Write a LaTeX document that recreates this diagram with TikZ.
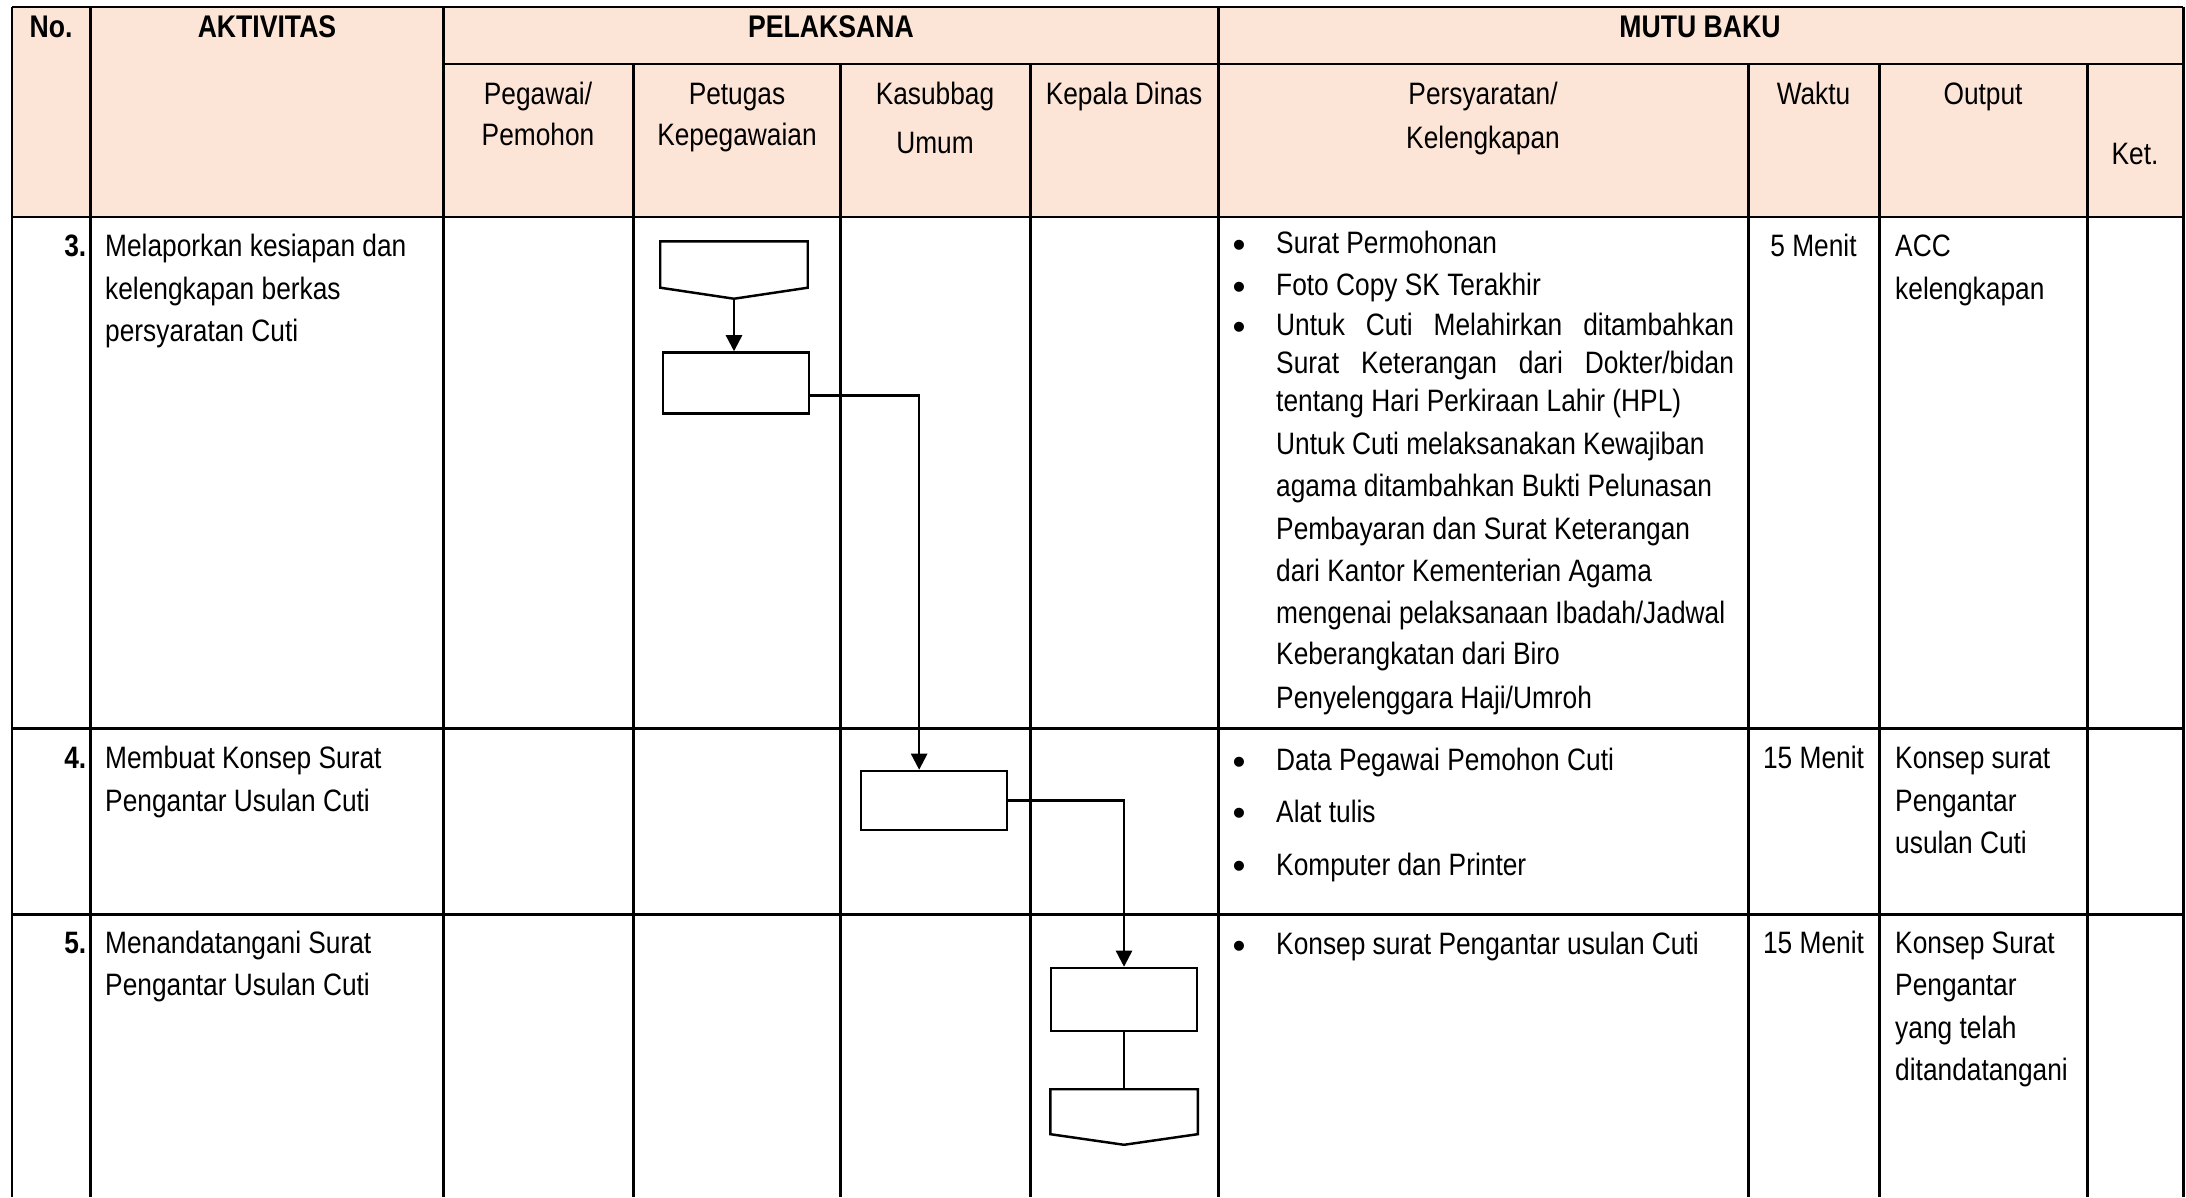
\documentclass[tikz,border=0pt]{standalone}
\usepackage{fontspec}
\setmainfont{Liberation Sans}[FakeStretch=0.85]
\newfontfamily\bulletfont{Liberation Sans}
\usetikzlibrary{arrows.meta,calc,positioning}
\definecolor{headfill}{RGB}{252,228,214}
\tikzset{
  tline/.style={line width=0.85pt},
  outline/.style={line width=0.7pt,line join=miter},
  procbox/.style={rectangle,draw,line width=0.7pt,minimum width=1.46cm,
                  minimum height=0.61cm,inner sep=0pt},
  offbody/.style={rectangle,minimum width=1.46cm,minimum height=0.45cm,inner sep=0pt},
  arr/.style={-{Triangle[length=4.6pt,width=4.6pt]},line width=0.7pt},
  link/.style={line width=0.7pt},
  txt/.style={anchor=base west,inner sep=0pt,font=\fontsize{8.8}{12}\selectfont},
  ctxt/.style={txt,anchor=base},
  hd/.style={ctxt,font=\fontsize{8.9}{12}\selectfont\bfseries},
  num/.style={txt,anchor=base east,font=\fontsize{8.8}{12}\selectfont\bfseries},
  bul/.style={anchor=base,inner sep=0pt,yshift=-1.1pt,
              font=\fontsize{10.5}{12}\selectfont\bulletfont},
}
\begin{document}
\begin{tikzpicture}[x=0.01cm,y=-0.01cm]
  \useasboundingbox (0,0) rectangle (2186,1197);
  %% Header background
  \fill[headfill] (12,7) rectangle (2183,217);
  %% Table lines
  \foreach \x in {12,90.6,443,1218,2183}{
    \draw[tline] (\x,7) -- (\x,1197);
  }
  \foreach \x in {633,840.6,1030,1748,1879,2087}{
    \draw[tline] (\x,64) -- (\x,1197);
  }
  \draw[tline] (12,7) -- (2183,7);
  \draw[tline] (443,64) -- (2183,64);
  \foreach \y in {217,728,914}{
    \draw[tline] (12,\y) -- (2183,\y);
  }

  %% Header texts
  \node[hd] (hNo)   at (51,37.5)   {No.};
  \node[hd] (hAkt)  at (267,37.5)  {AKTIVITAS};
  \node[hd] (hPel)  at (831,37.5)  {PELAKSANA};
  \node[hd] (hMutu) at (1700,37.5) {MUTU BAKU};
  \node[ctxt] (hPeg1) at (538,104.5)  {Pegawai/};
  \node[ctxt] (hPeg2) at (538,146)    {Pemohon};
  \node[ctxt] (hPet1) at (737,104.5)  {Petugas};
  \node[ctxt] (hPet2) at (737,146)    {Kepegawaian};
  \node[ctxt] (hKas1) at (935,104.5)  {Kasubbag};
  \node[ctxt] (hKas2) at (935,153)    {Umum};
  \node[ctxt] (hKep)  at (1124,104.5) {Kepala Dinas};
  \node[ctxt] (hPer1) at (1483,104.5) {Persyaratan/};
  \node[ctxt] (hPer2) at (1483,149)   {Kelengkapan};
  \node[ctxt] (hWak)  at (1813.5,104.5) {Waktu};
  \node[ctxt] (hOut)  at (1983,104.5) {Output};
  \node[ctxt] (hKet)  at (2135,164)   {Ket.};

  %% Row 3
  \node[num] (n3)   at (87,256)    {3.};
  \node[txt] (a3a)  at (104.5,256) {Melaporkan kesiapan dan};
  \node[txt] (a3b)  at (104.5,299.5) {kelengkapan berkas};
  \node[txt] (a3c)  at (104.5,341) {persyaratan Cuti};
  \node[bul] (p3b1) at (1239,253.5) {\textbullet};
  \node[txt] (p3t1) at (1275.5,253.5) {Surat Permohonan};
  \node[bul] (p3b2) at (1239,295.4) {\textbullet};
  \node[txt] (p3t2) at (1275.5,295.4) {Foto Copy SK Terakhir};
  \node[bul] (p3b3) at (1239,335.8) {\textbullet};
  \node[txt] (p3t3) at (1275.5,335.8) {\makebox[4.575cm][s]{Untuk Cuti Melahirkan ditambahkan}};
  \node[txt] (p3t4) at (1275.5,373.4) {\makebox[4.575cm][s]{Surat Keterangan dari Dokter/bidan}};
  \node[txt] (p3t5) at (1275.5,411)   {tentang Hari Perkiraan Lahir (HPL)};
  \node[txt] (p3t6) at (1275.5,454.3) {Untuk Cuti melaksanakan Kewajiban};
  \node[txt] (p3t7) at (1275.5,496)   {agama ditambahkan Bukti Pelunasan};
  \node[txt] (p3t8) at (1275.5,539.3) {Pembayaran dan Surat Keterangan};
  \node[txt] (p3t9) at (1275.5,581)   {dari Kantor Kementerian Agama};
  \node[txt] (p3t10) at (1275.5,623)  {mengenai pelaksanaan Ibadah/Jadwal};
  \node[txt] (p3t11) at (1275.5,664.8) {Keberangkatan dari Biro};
  \node[txt] (p3t12) at (1275.5,708)  {Penyelenggara Haji/Umroh};
  \node[ctxt] (w3)  at (1813.5,256) {5 Menit};
  \node[txt] (o3a)  at (1894.5,256) {ACC};
  \node[txt] (o3b)  at (1894.5,299.5) {kelengkapan};

  %% Row 4
  \node[num] (n4)   at (87,768)    {4.};
  \node[txt] (a4a)  at (104.5,768) {Membuat Konsep Surat};
  \node[txt] (a4b)  at (104.5,811) {Pengantar Usulan Cuti};
  \node[bul] (p4b1) at (1239,770.7) {\textbullet};
  \node[txt] (p4t1) at (1275.5,770.7) {Data Pegawai Pemohon Cuti};
  \node[bul] (p4b2) at (1239,822) {\textbullet};
  \node[txt] (p4t2) at (1275.5,822) {Alat tulis};
  \node[bul] (p4b3) at (1239,875) {\textbullet};
  \node[txt] (p4t3) at (1275.5,875) {Komputer dan Printer};
  \node[ctxt] (w4)  at (1813.5,768) {15 Menit};
  \node[txt] (o4a)  at (1894.5,768) {Konsep surat};
  \node[txt] (o4b)  at (1894.5,811) {Pengantar};
  \node[txt] (o4c)  at (1894.5,853) {usulan Cuti};

  %% Row 5
  \node[num] (n5)   at (87,953)    {5.};
  \node[txt] (a5a)  at (104.5,953) {Menandatangani Surat};
  \node[txt] (a5b)  at (104.5,995) {Pengantar Usulan Cuti};
  \node[bul] (p5b1) at (1239,954.7) {\textbullet};
  \node[txt] (p5t1) at (1275.5,954.7) {Konsep surat Pengantar usulan Cuti};
  \node[ctxt] (w5)  at (1813.5,953) {15 Menit};
  \node[txt] (o5a)  at (1894.5,953) {Konsep Surat};
  \node[txt] (o5b)  at (1894.5,995) {Pengantar};
  \node[txt] (o5c)  at (1894.5,1038) {yang telah};
  \node[txt] (o5d)  at (1894.5,1080) {ditandatangani};

  %% Flow symbols
  \node[offbody] (off1) at (734,264.5) {};
  \coordinate (off1tip) at ([yshift=-0.11cm]off1.south);
  \draw[outline] (off1.north west) -- (off1.north east) -- (off1.south east)
    -- (off1tip) -- (off1.south west) -- cycle;
  \node[procbox] (b2) at (736,383) {};
  \draw[arr] (off1tip) -- (off1tip |- b2.north);

  \node[procbox,minimum height=0.59cm] (b3) at (934,800.5) {};
  \coordinate (b2out) at ($(b2.north east)!0.7!(b2.south east)$);
  \coordinate (b3in) at ($(b3.north west)!0.4!(b3.north east)$);
  \draw[arr] (b2out) -| (b3in);

  \node[procbox,minimum height=0.63cm] (b4) at (1124,999.5) {};
  \draw[arr] (b3.east) -| (b4.north);

  \node[offbody,minimum height=0.435cm] (off2) at (1124,1111.7) {};
  \coordinate (off2tip) at ([yshift=-0.106cm]off2.south);
  \draw[outline] (off2.north west) -- (off2.north east) -- (off2.south east)
    -- (off2tip) -- (off2.south west) -- cycle;
  \draw[link] (b4.south) -- (off2.north);
\end{tikzpicture}
\end{document}
